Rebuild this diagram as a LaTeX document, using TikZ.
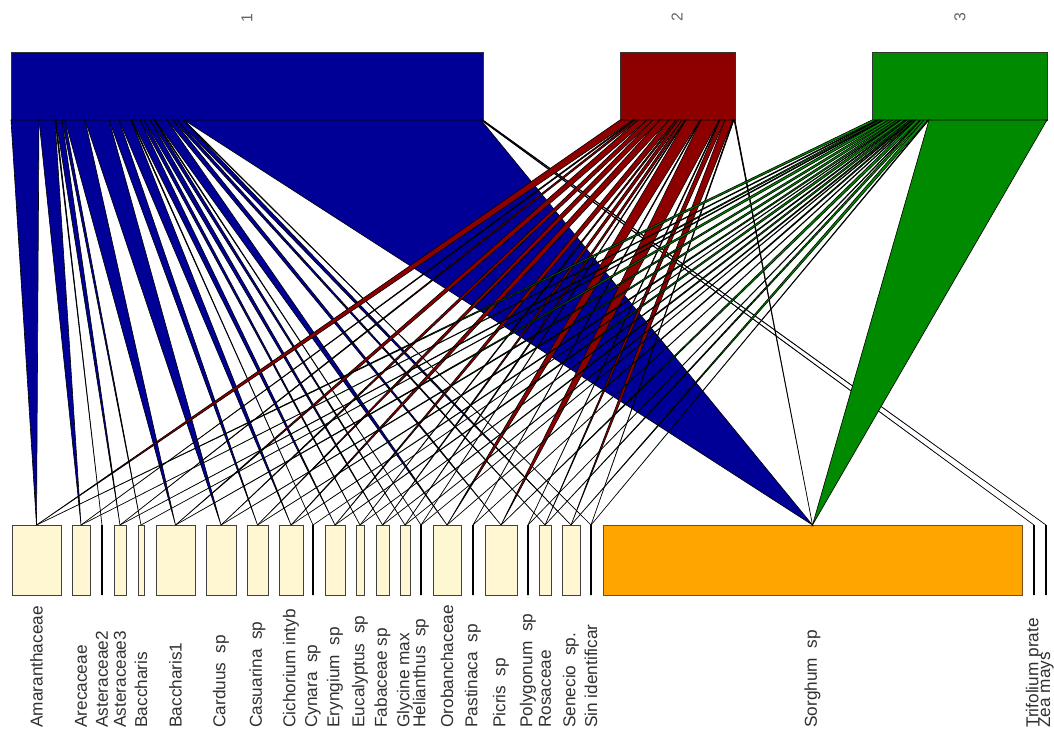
\documentclass[tikz,border=0pt]{standalone}
\usepackage{fontspec}
\setmainfont{Liberation Sans}
\usetikzlibrary{calc}
\definecolor{webblue}{HTML}{000096}
\definecolor{webred}{HTML}{8E0000}
\definecolor{webgreen}{HTML}{008A00}
\definecolor{lowfill}{HTML}{FFF6D2}
\definecolor{sorgfill}{HTML}{FFA500}
\definecolor{sorgline}{HTML}{7A4A1A}
\definecolor{lbltext}{HTML}{303030}

% fan of links from one upper box: target/width pairs, left to right
\newcommand{\weblinks}[3]{%
  \xdef\segx{0}%
  \foreach \tgt/\w in {#3} {%
    \pgfmathsetmacro\segend{\segx+\w}%
    \filldraw[link, fill=#2] ($(#1.south west)+(\segx,0)$) -- ($(#1.south west)+(\segend,0)$) -- (\tgt.north) -- cycle;
    \xdef\segx{\segend}%
  }%
}

\begin{document}
\begin{tikzpicture}[
    x=0.02cm, y=-0.02cm,
    topbox/.style={draw=black!80, line width=0.5pt, inner sep=0pt, outer sep=0pt,
                   minimum height={68*0.02cm}, anchor=north west},
    lowbox/.style={draw=black!75, fill=lowfill, line width=0.5pt, inner sep=0pt, outer sep=0pt,
                   minimum height={70*0.02cm}, anchor=north west},
    linebox/.style={lowbox, draw=black, fill=none, line width=1.4pt},
    sorgbox/.style={lowbox, fill=sorgfill, draw=sorgline},
    link/.style={draw=black, line width=0.35pt},
    lowlbl/.style={rotate=90, anchor=west, inner sep=0pt,
                   font=\fontsize{9.8}{10}\selectfont, text=lbltext},
    toplbl/.style={rotate=90, inner sep=0pt, font=\fontsize{9}{10}\selectfont, text=black!60}
  ]
    \fill[white] (0,0) rectangle (1054,731);
    \useasboundingbox (0,0) rectangle (1054,731);

    % upper level
    \node[topbox, fill=webblue, minimum width={472*0.02cm}] (h1) at (11,52) {};
    \node[topbox, fill=webred, minimum width={115*0.02cm}] (h2) at (620,52) {};
    \node[topbox, fill=webgreen, minimum width={175*0.02cm}] (h3) at (872,52) {};
    \node[toplbl] (h1-l) at (247,18) {1};
    \node[toplbl] (h2-l) at (677,17) {2};
    \node[toplbl] (h3-l) at (960,17) {3};

    % lower level
    \foreach \nm/\xa/\xb/\lbl/\sty in {
        amar/12/61/Amaranthaceae/lowbox,
        arec/72/90/Arecaceae/lowbox,
        ast2/102/102/Asteraceae2/linebox,
        ast3/114/126/Asteraceae3/lowbox,
        bacc/138/144/Baccharis/lowbox,
        bac1/156/195/Baccharis1/lowbox,
        card/206/236/Carduus\ \ sp/lowbox,
        casu/247/268/Casuarina\ \ sp/lowbox,
        cich/279/303/Cichorium intyb/lowbox,
        cyna/313/313/Cynara\ \ sp/linebox,
        eryn/325/345/Eryngium\ \ sp/lowbox,
        euca/356/364/Eucalyptus\ \ sp/lowbox,
        faba/376/389/Fabaceae sp/lowbox,
        glyc/400/410/Glycine max/lowbox,
        heli/421/421/Helianthus\ \ sp/linebox,
        orob/433/461/Orobanchaceae/lowbox,
        past/473/473/Pastinaca\ \ sp/linebox,
        picr/485/517/Picris\ \ sp/lowbox,
        poly/528/528/Polygonum\ \ sp/linebox,
        rosa/539/551/Rosaceae/lowbox,
        sene/562/580/Senecio\ \ sp./lowbox,
        sini/591/591/Sin identificar/linebox,
        sorg/603/1022/Sorghum\ \ sp/sorgbox,
        trif/1034/1034/Trifolium prate/linebox,
        zea/1046/1046/Zea mays/linebox} {
      \node[\sty, minimum width={(\xb-\xa)*0.02cm}] (\nm) at (\xa,525) {};
      \node[lowlbl] (\nm-l) at ({(\xa+\xb)/2},728) {\lbl};
    }

    % interactions
    \weblinks{h1}{webblue}{amar/28, arec/16, ast2/1, ast3/6, bacc/3, bac1/20, card/24,
      casu/10, cich/12, cyna/1, eryn/8, euca/4, faba/6, glyc/4, heli/1, orob/12, picr/6,
      rosa/4, sene/6, sini/1, sorg/297, trif/1, zea/1}
    \weblinks{h2}{webred}{amar/13, arec/2, ast3/3, bac1/9, card/6, casu/7, cich/9, eryn/7,
      euca/2, faba/4, glyc/3, heli/1, orob/14, past/1, picr/18, poly/1, rosa/5, sene/8,
      sini/1, sorg/1}
    \weblinks{h3}{webgreen}{amar/5, arec/2, ast3/3, bacc/2, bac1/5, card/4, casu/4, cich/3,
      cyna/1, eryn/4, euca/2, faba/3, glyc/2, heli/1, orob/2, past/1, picr/4, poly/1,
      rosa/3, sene/4, sini/1, sorg/118}
\end{tikzpicture}
\end{document}
